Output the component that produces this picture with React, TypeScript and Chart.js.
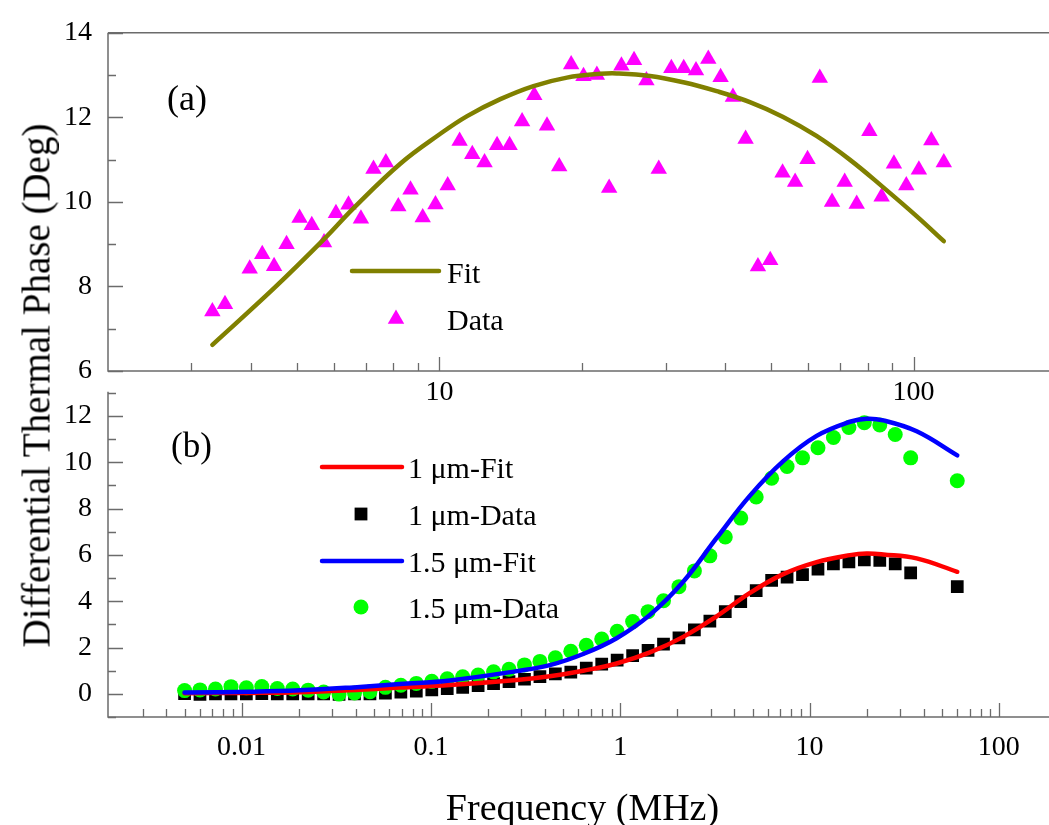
import React, { useEffect, useRef } from 'react';
import { Chart, registerables } from 'chart.js';

Chart.register(...registerables);

// ---------------- Panel (a) data ----------------
const freqA = [3.32, 3.53, 3.98, 4.23, 4.48, 4.76, 5.07, 5.38, 5.71, 6.05, 6.43, 6.83, 7.26, 7.71, 8.19, 8.69, 9.22, 9.81, 10.41, 11.03, 11.73, 12.45, 13.23, 14.06, 14.94, 15.85, 16.86, 17.89, 18.96, 20.13, 21.48, 22.8, 24.2, 25.73, 27.32, 29.01, 30.84, 32.75, 34.76, 36.9, 39.17, 41.59, 44.23, 46.96, 49.85, 52.92, 56.25, 59.75, 63.41, 67.3, 71.56, 75.86, 80.68, 85.62, 90.89, 96.52, 102.6, 109.0, 115.8];
const phaseA = [7.41, 7.58, 8.42, 8.76, 8.48, 9.0, 9.62, 9.45, 9.04, 9.73, 9.93, 9.6, 10.78, 10.93, 9.89, 10.29, 9.63, 9.94, 10.39, 11.44, 11.13, 10.93, 11.34, 11.34, 11.9, 12.52, 11.8, 10.84, 13.25, 12.97, 13.0, 10.33, 13.22, 13.35, 12.87, 10.78, 13.16, 13.16, 13.11, 13.38, 12.95, 12.48, 11.49, 8.47, 8.62, 10.69, 10.47, 11.01, 12.93, 10.0, 10.47, 9.95, 11.67, 10.12, 10.9, 10.39, 10.76, 11.45, 10.93];
const fitAFreq = [3.32, 4.48, 5.71, 6.6, 8.28, 10.01, 11.44, 13.44, 15.79, 18.57, 21.83, 23.67, 27.81, 32.69, 38.42, 45.15, 53.07, 62.4, 73.33, 86.18, 101.3, 115.8];
const fitAPhase = [6.62, 7.96, 9.12, 9.86, 10.91, 11.6, 12.03, 12.43, 12.74, 12.94, 13.03, 13.04, 12.98, 12.83, 12.62, 12.36, 12.01, 11.56, 11.0, 10.35, 9.67, 9.07];

// ---------------- Panel (b) data ----------------
const freqB = [0.005, 0.00603, 0.00728, 0.00879, 0.0106, 0.01279, 0.01544, 0.01863, 0.02248, 0.02713, 0.03273, 0.0395, 0.04766, 0.05751, 0.0694, 0.08375, 0.1011, 0.122, 0.1472, 0.1776, 0.2143, 0.2586, 0.3121, 0.3766, 0.4544, 0.5483, 0.6617, 0.7985, 0.9634, 1.163, 1.403, 1.693, 2.043, 2.465, 2.975, 3.589, 4.331, 5.226, 6.306, 7.61, 9.183, 11.08, 13.37, 16.14, 19.47, 23.5, 28.35, 34.21, 60.3];
const data1um = [0.01, -0.02, 0.0, 0.0, 0.0, 0.01, 0.0, 0.0, 0.0, 0.0, -0.02, 0.0, 0.0, 0.03, 0.07, 0.12, 0.17, 0.22, 0.28, 0.35, 0.44, 0.53, 0.63, 0.74, 0.86, 0.94, 1.11, 1.28, 1.46, 1.65, 1.88, 2.15, 2.42, 2.76, 3.14, 3.55, 3.98, 4.46, 4.9, 5.04, 5.15, 5.38, 5.61, 5.7, 5.78, 5.76, 5.61, 5.22, 4.63];
const data15um = [0.14, 0.17, 0.21, 0.31, 0.26, 0.32, 0.23, 0.21, 0.16, 0.08, -0.01, 0.04, 0.09, 0.28, 0.37, 0.45, 0.54, 0.65, 0.74, 0.81, 0.95, 1.06, 1.25, 1.4, 1.56, 1.84, 2.1, 2.37, 2.7, 3.12, 3.55, 4.02, 4.63, 5.31, 5.96, 6.77, 7.59, 8.5, 9.31, 9.82, 10.19, 10.63, 11.07, 11.5, 11.71, 11.61, 11.2, 10.19, 9.2];
const fitBFreq = [0.005, 0.01106, 0.0203, 0.0422, 0.0686, 0.126, 0.2836, 0.425, 0.6375, 0.957, 1.435, 2.151, 3.231, 4.845, 7.262, 10.9, 16.35, 20.03, 24.51, 36.8, 60.3];
const fit1um = [0.03, 0.04, 0.07, 0.18, 0.27, 0.38, 0.6, 0.76, 1.0, 1.31, 1.79, 2.46, 3.35, 4.36, 5.17, 5.69, 5.99, 6.06, 6.02, 5.85, 5.27];
const fit15um = [0.06, 0.09, 0.15, 0.3, 0.42, 0.58, 0.98, 1.24, 1.72, 2.4, 3.41, 4.84, 6.73, 8.56, 10.05, 11.14, 11.75, 11.88, 11.81, 11.34, 10.3];

// ---------------- Axis ticks ----------------
const xMajorA = [10, 100];
const xLabelsA = ['10', '100'];
const xMajorB = [0.01, 0.1, 1, 10, 100];
const xLabelsB = ['0.01', '0.1', '1', '10', '100'];
const yTicksA = [6, 7, 8, 9, 10, 11, 12, 13, 14];
const yLabelsA = [6, 8, 10, 12, 14];
const yTicksB = [-1, 0, 1, 2, 3, 4, 5, 6, 7, 8, 9, 10, 11, 12, 13];
const yLabelsB = [0, 2, 4, 6, 8, 10, 12];
const mantissas = [1, 2, 3, 4, 5, 6, 7, 8, 9];

const FONT = '"Liberation Serif", "Times New Roman", Times, serif';
const AXIS_COLOR = '#6b6b6b';
const OLIVE = '#808000';
const MAGENTA = '#ff00ff';
const GREEN = '#00ff00';

type TickDef = { value: number; label: string };

function logTicks(min: number, max: number, majors: number[], labels: string[]): TickDef[] {
  const out: TickDef[] = [];
  const s = Math.floor(Math.log10(min));
  const e = Math.ceil(Math.log10(max));
  for (let p = s; p <= e; p++) {
    for (const m of mantissas) {
      const v = parseFloat((m * Math.pow(10, p)).toPrecision(6));
      if (v < min * 0.999 || v > max) continue;
      const idx = majors.findIndex((mj) => Math.abs(mj - v) / mj < 1e-6);
      out.push({ value: v, label: idx >= 0 ? labels[idx] : '' });
    }
  }
  return out;
}

const X_MIN_A = 2.0;
const X_MAX_A = 193;
const X_MIN_B = 0.00197;
const X_MAX_B = 184;
const xTicksA = logTicks(X_MIN_A, X_MAX_A, xMajorA, xLabelsA);
const xTicksB = logTicks(X_MIN_B, X_MAX_B, xMajorB, xLabelsB);

function zip(xs: number[], ys: number[]) {
  return xs.map((x, i) => ({ x, y: ys[i] }));
}

type LegendItem = { kind: 'line' | 'triangle' | 'square' | 'circle'; color: string; text: string; y: number; textY: number };

function framePlugin(opts: {
  id: string;
  drawTop: boolean;
  panelLabel: string;
  panelX: number;
  panelY: number;
  panelSize: number;
  legend: LegendItem[];
  lineX0: number;
  lineX1: number;
  markerX: number;
  textX: number;
}) {
  return {
    id: opts.id,
    beforeDatasetsDraw(chart: any) {
      const { ctx, chartArea: a, scales } = chart;
      ctx.save();
      ctx.strokeStyle = AXIS_COLOR;
      ctx.lineWidth = 1.5;
      ctx.beginPath();
      if (opts.drawTop) {
        ctx.moveTo(a.left, a.top);
        ctx.lineTo(a.right, a.top);
      }
      ctx.moveTo(a.left, opts.drawTop ? a.top : a.top - 1);
      ctx.lineTo(a.left, a.bottom);
      ctx.lineTo(a.right, a.bottom);
      ctx.stroke();
      ctx.lineWidth = 1.3;
      ctx.beginPath();
      const ys = scales.y;
      ys.ticks.forEach((t: any) => {
        const p = Math.round(ys.getPixelForValue(t.value)) + 0.5;
        const len = t.label ? 15 : 8;
        ctx.moveTo(a.left, p);
        ctx.lineTo(a.left + len, p);
      });
      const xs = scales.x;
      xs.ticks.forEach((t: any) => {
        const p = Math.round(xs.getPixelForValue(t.value)) + 0.5;
        if (p < a.left + 2 || p > a.right) return;
        const len = t.label ? 14 : 8;
        ctx.moveTo(p, a.bottom);
        ctx.lineTo(p, a.bottom - len);
      });
      ctx.stroke();
      ctx.restore();
    },
    afterDatasetsDraw(chart: any) {
      const { ctx } = chart;
      ctx.save();
      ctx.fillStyle = '#000';
      ctx.textBaseline = 'alphabetic';
      ctx.textAlign = 'left';
      ctx.font = `${opts.panelSize}px ${FONT}`;
      ctx.fillText(opts.panelLabel, opts.panelX, opts.panelY);
      ctx.font = `30px ${FONT}`;
      opts.legend.forEach((it) => {
        ctx.fillStyle = it.color;
        ctx.strokeStyle = it.color;
        if (it.kind === 'line') {
          ctx.lineWidth = 4.5;
          ctx.lineCap = 'round';
          ctx.beginPath();
          ctx.moveTo(opts.lineX0, it.y);
          ctx.lineTo(opts.lineX1, it.y);
          ctx.stroke();
        } else if (it.kind === 'triangle') {
          const r = 9.5;
          ctx.beginPath();
          ctx.moveTo(opts.markerX, it.y - r);
          ctx.lineTo(opts.markerX + 0.866 * r, it.y + 0.5 * r);
          ctx.lineTo(opts.markerX - 0.866 * r, it.y + 0.5 * r);
          ctx.closePath();
          ctx.fill();
        } else if (it.kind === 'square') {
          const h = 6.4;
          ctx.fillRect(opts.markerX - h, it.y - h, 2 * h, 2 * h);
        } else {
          ctx.beginPath();
          ctx.arc(opts.markerX, it.y, 7.5, 0, Math.PI * 2);
          ctx.fill();
        }
        ctx.fillStyle = '#000';
        ctx.fillText(it.text, opts.textX, it.textY);
      });
      ctx.restore();
    },
  };
}

const tickFont = { family: FONT, size: 28 };

function makeScales(
  xMin: number, xMax: number, xTicks: TickDef[], xPad: number, xHeight: number,
  yMin: number, yMax: number, yTicks: number[], yLabels: number[]
) {
  return {
    x: {
      type: 'logarithmic',
      position: 'bottom',
      min: xMin,
      max: xMax,
      grid: { display: false, drawTicks: false },
      border: { display: false },
      afterBuildTicks: (s: any) => {
        s.ticks = xTicks.map((t) => ({ value: t.value }));
      },
      afterFit: (s: any) => {
        s.height = xHeight;
      },
      ticks: {
        autoSkip: false,
        maxRotation: 0,
        minRotation: 0,
        padding: xPad,
        color: '#000',
        font: tickFont,
        callback: (_v: any, i: number) => (xTicks[i] ? xTicks[i].label : ''),
      },
    },
    y: {
      type: 'linear',
      position: 'left',
      min: yMin,
      max: yMax,
      grid: { display: false, drawTicks: false },
      border: { display: false },
      afterBuildTicks: (s: any) => {
        s.ticks = yTicks.map((v) => ({ value: v }));
      },
      afterFit: (s: any) => {
        s.width = 108;
      },
      ticks: {
        autoSkip: false,
        padding: 16,
        color: '#000',
        font: tickFont,
        callback: (v: any) => (yLabels.includes(Number(v)) ? String(v) : ''),
      },
    },
  };
}

export default function App() {
  const refA = useRef<HTMLCanvasElement>(null);
  const refB = useRef<HTMLCanvasElement>(null);

  useEffect(() => {
    const common = {
      responsive: false,
      animation: false,
      devicePixelRatio: 1,
      events: [],
      plugins: { legend: { display: false }, tooltip: { enabled: false } },
    };

    const chartA = new Chart(refA.current as HTMLCanvasElement, {
      type: 'scatter',
      data: {
        datasets: [
          {
            label: 'Fit',
            data: zip(fitAFreq, fitAPhase),
            showLine: true,
            borderColor: OLIVE,
            backgroundColor: OLIVE,
            borderWidth: 4.5,
            borderCapStyle: 'round',
            pointRadius: 0,
            tension: 0.4,
            order: 0,
          },
          {
            label: 'Data',
            data: zip(freqA, phaseA),
            showLine: false,
            pointStyle: 'triangle',
            pointRadius: 9.5,
            pointBackgroundColor: MAGENTA,
            pointBorderColor: MAGENTA,
            pointBorderWidth: 0,
            order: 1,
          },
        ],
      },
      options: {
        ...common,
        layout: { padding: { top: 27, left: 0, right: 0, bottom: 0 }, autoPadding: false },
        scales: makeScales(X_MIN_A, X_MAX_A, xTicksA, 5, 49, 6, 14, yTicksA, yLabelsA),
      } as any,
      plugins: [
        framePlugin({
          id: 'frameA',
          drawTop: true,
          panelLabel: '(a)',
          panelX: 167,
          panelY: 110,
          panelSize: 36,
          lineX0: 352,
          lineX1: 439,
          markerX: 396,
          textX: 447,
          legend: [
            { kind: 'line', color: OLIVE, text: 'Fit', y: 271, textY: 283 },
            { kind: 'triangle', color: MAGENTA, text: 'Data', y: 319, textY: 330 },
          ],
        }) as any,
      ],
    } as any);

    const offB = 360;
    const chartB = new Chart(refB.current as HTMLCanvasElement, {
      type: 'scatter',
      data: {
        datasets: [
          {
            label: '1.5 μm-Fit',
            data: zip(fitBFreq, fit15um),
            showLine: true,
            borderColor: '#0000ff',
            borderWidth: 4.5,
            borderCapStyle: 'round',
            pointRadius: 0,
            tension: 0.4,
            order: 1,
          },
          {
            label: '1 μm-Fit',
            data: zip(fitBFreq, fit1um),
            showLine: true,
            borderColor: '#ff0000',
            borderWidth: 4.5,
            borderCapStyle: 'round',
            pointRadius: 0,
            tension: 0.4,
            order: 2,
          },
          {
            label: '1.5 μm-Data',
            data: zip(freqB, data15um),
            showLine: false,
            pointStyle: 'circle',
            pointRadius: 7.5,
            pointBackgroundColor: GREEN,
            pointBorderColor: GREEN,
            pointBorderWidth: 0,
            order: 3,
          },
          {
            label: '1 μm-Data',
            data: zip(freqB, data1um),
            showLine: false,
            pointStyle: 'rect',
            pointRadius: 9,
            pointBackgroundColor: '#000',
            pointBorderColor: '#000',
            pointBorderWidth: 0,
            order: 4,
          },
        ],
      },
      options: {
        ...common,
        layout: { padding: { top: 372 - offB, left: 0, right: 0, bottom: 0 }, autoPadding: false },
        scales: makeScales(X_MIN_B, X_MAX_B, xTicksB, 14, 108, -1, 13, yTicksB, yLabelsB),
      } as any,
      plugins: [
        framePlugin({
          id: 'frameB',
          drawTop: false,
          panelLabel: '(b)',
          panelX: 171,
          panelY: 457 - offB,
          panelSize: 35,
          lineX0: 322,
          lineX1: 402,
          markerX: 361,
          textX: 408,
          legend: [
            { kind: 'line', color: '#ff0000', text: '1 μm-Fit', y: 467 - offB, textY: 478 - offB },
            { kind: 'square', color: '#000000', text: '1 μm-Data', y: 514 - offB, textY: 525 - offB },
            { kind: 'line', color: '#0000ff', text: '1.5 μm-Fit', y: 561 - offB, textY: 572 - offB },
            { kind: 'circle', color: GREEN, text: '1.5 μm-Data', y: 607 - offB, textY: 618 - offB },
          ],
        }) as any,
      ],
    } as any);

    return () => {
      chartA.destroy();
      chartB.destroy();
    };
  }, []);

  return (
    <div
      style={{
        position: 'fixed',
        left: 0,
        top: 0,
        width: 1049,
        height: 825,
        background: '#ffffff',
        overflow: 'hidden',
      }}
    >
      <canvas
        ref={refA}
        width={1049}
        height={420}
        style={{ position: 'absolute', left: 0, top: 0, width: 1049, height: 420 }}
      />
      <canvas
        ref={refB}
        width={1049}
        height={465}
        style={{ position: 'absolute', left: 0, top: 360, width: 1049, height: 465 }}
      />
      <div
        style={{
          position: 'absolute',
          left: 36 - 300,
          top: 385 - 19.5,
          width: 600,
          height: 39,
          lineHeight: '39px',
          fontSize: 39,
          fontFamily: FONT,
          color: '#000',
          textAlign: 'center',
          whiteSpace: 'nowrap',
          transform: 'rotate(-90deg)',
        }}
      >
        Differential Thermal Phase (Deg)
      </div>
      <div
        style={{
          position: 'absolute',
          left: 582.5 - 300,
          top: 787.5,
          width: 600,
          height: 38,
          lineHeight: '38px',
          fontSize: 38,
          fontFamily: FONT,
          color: '#000',
          textAlign: 'center',
          whiteSpace: 'nowrap',
        }}
      >
        Frequency (MHz)
      </div>
    </div>
  );
}
